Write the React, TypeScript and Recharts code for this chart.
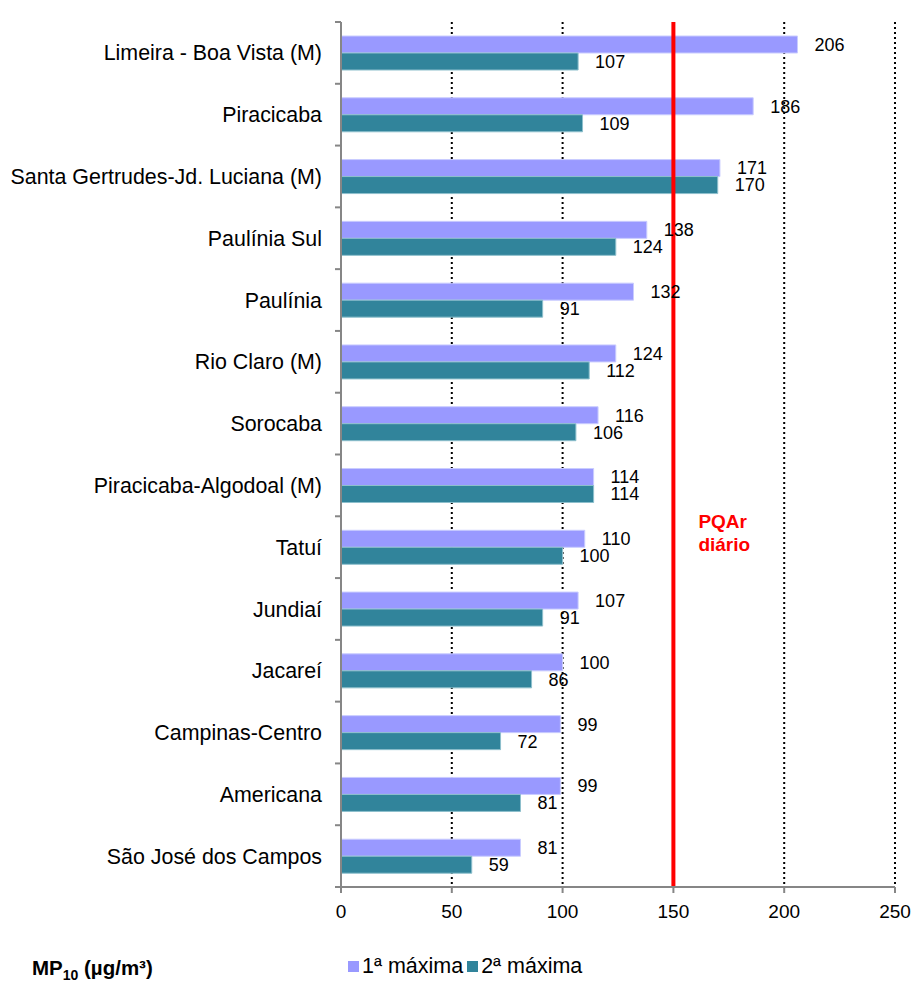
import { BarChart, Bar, XAxis, YAxis, CartesianGrid, ReferenceLine, LabelList } from 'recharts';

const estacoes = [
  'Limeira - Boa Vista (M)',
  'Piracicaba',
  'Santa Gertrudes-Jd. Luciana (M)',
  'Paulínia Sul',
  'Paulínia',
  'Rio Claro (M)',
  'Sorocaba',
  'Piracicaba-Algodoal (M)',
  'Tatuí',
  'Jundiaí',
  'Jacareí',
  'Campinas-Centro ',
  'Americana',
  'São José dos Campos',
];
const primeiraMaxima = [206, 186, 171, 138, 132, 124, 116, 114, 110, 107, 100, 99, 99, 81];
const segundaMaxima = [107, 109, 170, 124, 91, 112, 106, 114, 100, 91, 86, 72, 81, 59];
const xTicks = [0, 50, 100, 150, 200, 250];
const PADRAO_DIARIO = 150;

const FONT = '"Liberation Sans", Arial, sans-serif';
const COR_1 = '#9999FF';
const COR_2 = '#31849B';
const EIXO = '#868686';
const Y_TICK_MARGIN = 19;

const data = estacoes.map((nome, i) => ({
  nome,
  max1: primeiraMaxima[i],
  max2: segundaMaxima[i],
}));

// category labels, plus the small ticks Excel draws between categories
function EstacaoTick(props: any) {
  const { x, y, payload, index, height } = props;
  const band = height / estacoes.length;
  const eixoX = x + Y_TICK_MARGIN;
  return (
    <g>
      {index === 0 && (
        <line x1={eixoX - 6} x2={eixoX} y1={y - band / 2} y2={y - band / 2} stroke={EIXO} strokeWidth={2} />
      )}
      <line x1={eixoX - 6} x2={eixoX} y1={y + band / 2} y2={y + band / 2} stroke={EIXO} strokeWidth={2} />
      <text x={x} y={y} dy="0.355em" textAnchor="end" fill="#000" fontSize={21.4} fontFamily={FONT}>
        {payload.value}
      </text>
    </g>
  );
}

function PqarLabel(props: any) {
  const vb = props.viewBox || {};
  const x = (vb.x ?? 0) + 25;
  const y = vb.y ?? 0;
  return (
    <text fill="#FF0000" fontFamily={FONT} fontWeight="bold" fontSize={19}>
      <tspan x={x} y={y + 506}>PQAr</tspan>
      <tspan x={x} y={y + 529}>diário</tspan>
    </text>
  );
}

function Legenda() {
  const item = (cor: string, texto: string) => (
    <span style={{ display: 'inline-flex', alignItems: 'center', marginRight: 4 }}>
      <span style={{ width: 11, height: 11, background: cor, display: 'inline-block', marginRight: 3 }} />
      {texto}
    </span>
  );
  return (
    <div
      style={{
        position: 'absolute',
        left: 348,
        top: 953,
        fontFamily: FONT,
        fontSize: 21.5,
        color: '#000',
        whiteSpace: 'nowrap',
      }}
    >
      {item(COR_1, '1ª máxima')}
      {item(COR_2, '2ª máxima')}
    </div>
  );
}

export default function App() {
  return (
    <div style={{ position: 'absolute', left: 0, top: 0, width: 914, height: 991, background: '#fff' }}>
      <BarChart
        width={914}
        height={991}
        data={data}
        layout="vertical"
        margin={{ top: 22, right: 19, bottom: 64, left: 0 }}
        barSize={17}
        barGap={0}
      >
        <CartesianGrid
          horizontal={false}
          stroke="#000"
          strokeWidth={2}
          strokeDasharray="2 3"
        />
        <XAxis
          type="number"
          domain={[0, 250]}
          ticks={xTicks}
          height={40}
          stroke={EIXO}
          strokeWidth={2}
          tickSize={6}
          tickMargin={12}
          tick={{ fill: '#000', fontSize: 19, fontFamily: FONT }}
        />
        <YAxis
          type="category"
          dataKey="nome"
          width={341}
          stroke={EIXO}
          strokeWidth={2}
          tickLine={false}
          tickSize={0}
          tickMargin={Y_TICK_MARGIN}
          interval={0}
          tick={<EstacaoTick />}
        />
        <Bar dataKey="max1" name="1ª máxima" fill={COR_1} stroke="#C9CCFF" strokeWidth={1} isAnimationActive={false}>
          <LabelList dataKey="max1" position="right" offset={17} fill="#000" fontSize={18} fontFamily={FONT} />
        </Bar>
        <Bar dataKey="max2" name="2ª máxima" fill={COR_2} stroke="#8DBFCC" strokeWidth={1} isAnimationActive={false}>
          <LabelList dataKey="max2" position="right" offset={17} fill="#000" fontSize={18} fontFamily={FONT} />
        </Bar>
        <ReferenceLine x={PADRAO_DIARIO} stroke="#FF0000" strokeWidth={4} label={<PqarLabel />} />
      </BarChart>
      <Legenda />
      <div
        style={{
          position: 'absolute',
          left: 32,
          top: 956,
          fontFamily: FONT,
          fontSize: 20.5,
          fontWeight: 'bold',
          color: '#000',
          whiteSpace: 'nowrap',
        }}
      >
        MP<sub style={{ fontSize: 14 }}>10</sub> (µg/m³)
      </div>
    </div>
  );
}
